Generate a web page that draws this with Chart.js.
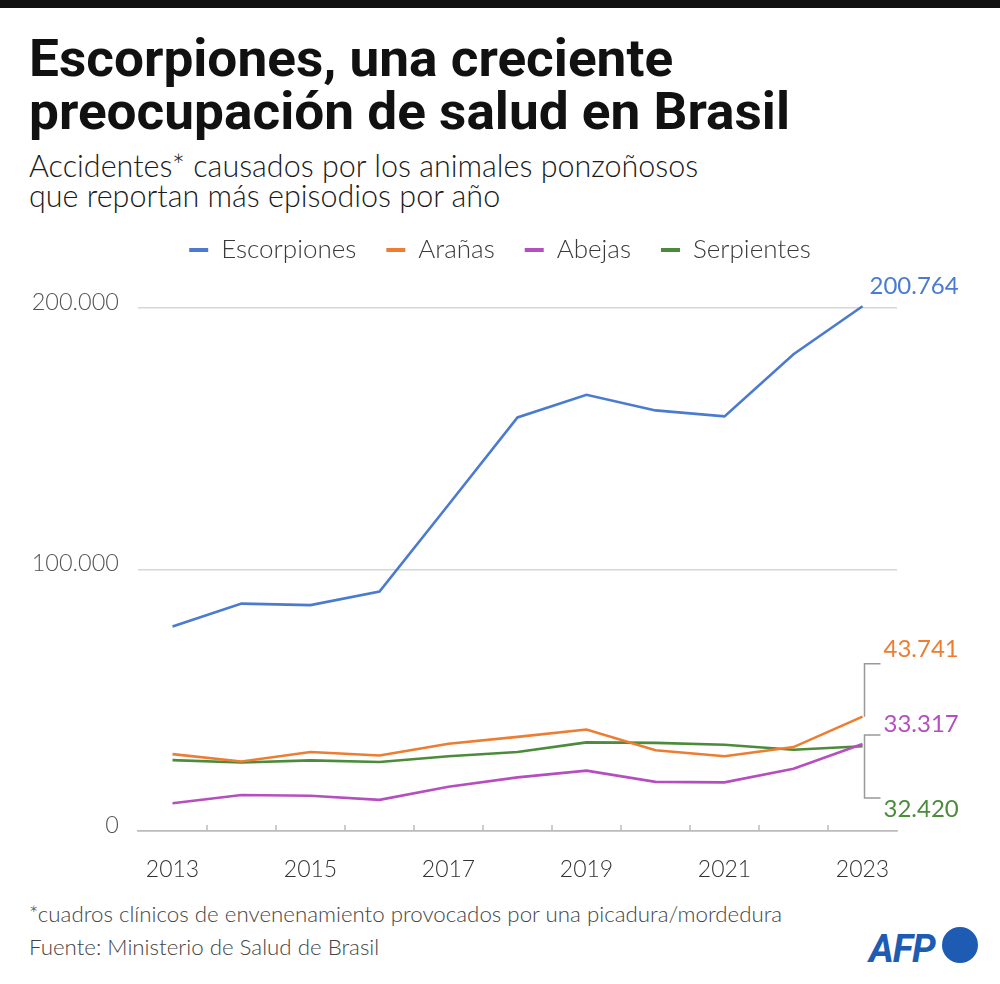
<!DOCTYPE html>
<html lang="es">
<head>
<meta charset="utf-8">
<script src="https://cdn.jsdelivr.net/npm/chart.js@4.4.1/dist/chart.umd.min.js"></script>
<style>
  html, body { margin: 0; padding: 0; background: #fff; }
  body { width: 1000px; height: 984px; position: relative; overflow: hidden; font-family: Lato, "Noto Sans", sans-serif; }
  .topbar { position: absolute; left: 0; top: 0; width: 1000px; height: 8px; background: #111; }
  .title { position: absolute; left: 29px; margin: 0; font: 700 52px/53px Roboto, sans-serif; color: #111; white-space: nowrap; transform-origin: left top; }
  .sub { position: absolute; left: 29px; font: 300 30.5px/29px Lato, sans-serif; color: #1a1a1a; white-space: nowrap; }
  .foot { position: absolute; left: 29px; font: 300 22.3px/33px Lato, sans-serif; color: #444; white-space: nowrap; }
  #wrap { position: absolute; left: 0; top: 200px; width: 1000px; height: 690px; }
  .afp { position: absolute; left: 869px; top: 930px; font: italic 700 38px/38px Roboto, sans-serif; color: #1e5cb3; letter-spacing: -1px; }
  .dot { position: absolute; left: 942px; top: 927px; width: 36px; height: 36px; border-radius: 50%; background: #1e5cb3; }
</style>
</head>
<body>
<div class="topbar"></div>
<div class="title" id="t1" style="top:32px">Escorpiones, una creciente</div>
<div class="title" id="t2" style="top:85px">preocupación de salud en Brasil</div>
<div class="sub" style="top:151px">Accidentes* causados por los animales ponzoñosos</div>
<div class="sub" style="top:181px">que reportan más episodios por año</div>
<div id="wrap"><canvas id="chart" width="1000" height="690"></canvas></div>
<div class="foot" style="top:897px">*cuadros clínicos de envenenamiento provocados por una picadura/mordedura</div>
<div class="foot" style="top:930px">Fuente: Ministerio de Salud de Brasil</div>
<div class="afp">AFP</div>
<div class="dot"></div>
<script>
const years = ['2013', '2014', '2015', '2016', '2017', '2018', '2019', '2020', '2021', '2022', '2023'];
const escorpiones = [78200, 87000, 86400, 91600, 124800, 158200, 166900, 160900, 158600, 182400, 200764];
const aranas = [29400, 26600, 30200, 28900, 33400, 36000, 38800, 30900, 28600, 32100, 43741];
const abejas = [10600, 13800, 13500, 11900, 16900, 20500, 23100, 18800, 18600, 23800, 33317];
const serpientes = [27100, 26200, 27000, 26400, 28600, 30200, 33900, 33700, 33000, 31100, 32420];
const seriesNames = ['Escorpiones', 'Arañas', 'Abejas', 'Serpientes'];
const colors = ['#4a7bd0', '#ed7d31', '#b54fbf', '#4b8b3b'];
const yTicks = [0, 100000, 200000];

// squeeze the bold title into the narrow width of the original
const t2 = document.getElementById('t2');
const sx = 761 / t2.getBoundingClientRect().width;
document.querySelectorAll('.title').forEach(el => el.style.transform = 'scaleX(' + sx + ')');

function fmt(v) {
  return String(Math.round(v)).replace(/\B(?=(\d{3})+(?!\d))/g, '.');
}

const axisTicks = {
  id: 'axisTicks',
  afterDraw(chart) {
    const {ctx, chartArea, scales: {x}} = chart;
    ctx.save();
    ctx.strokeStyle = '#bbb';
    ctx.lineWidth = 1.5;
    for (let i = 1; i < years.length; i++) {
      const px = (x.getPixelForValue(i - 1) + x.getPixelForValue(i)) / 2;
      ctx.beginPath();
      ctx.moveTo(px, chartArea.bottom - 6);
      ctx.lineTo(px, chartArea.bottom);
      ctx.stroke();
    }
    ctx.restore();
  }
};

const endLabels = {
  id: 'endLabels',
  afterDatasetsDraw(chart) {
    const ctx = chart.ctx;
    const last = years.length - 1;
    const pt = i => chart.getDatasetMeta(i).data[last];
    const vals = [escorpiones, aranas, abejas, serpientes].map(a => a[last]);
    ctx.save();
    ctx.font = '400 24px Lato, sans-serif';
    ctx.textAlign = 'left';
    ctx.textBaseline = 'middle';

    const pe = pt(0);
    ctx.fillStyle = colors[0];
    ctx.fillText(fmt(vals[0]), pe.x + 7, pe.y - 20);

    ctx.strokeStyle = '#999';
    ctx.lineWidth = 1.5;
    const bx = pe.x + 2;

    const po = pt(1);
    ctx.beginPath();
    ctx.moveTo(bx, po.y);
    ctx.lineTo(bx, po.y - 53);
    ctx.lineTo(bx + 16, po.y - 53);
    ctx.stroke();
    ctx.fillStyle = colors[1];
    ctx.fillText(fmt(vals[1]), bx + 19, po.y - 67);

    const mid = (pt(2).y + pt(3).y) / 2;
    ctx.beginPath();
    ctx.moveTo(bx + 16, mid - 10);
    ctx.lineTo(bx, mid - 10);
    ctx.lineTo(bx, mid + 53);
    ctx.lineTo(bx + 16, mid + 53);
    ctx.stroke();
    ctx.fillStyle = colors[2];
    ctx.fillText(fmt(vals[2]), bx + 19, mid - 21);
    ctx.fillStyle = colors[3];
    ctx.fillText(fmt(vals[3]), bx + 19, mid + 64);
    ctx.restore();
  }
};

const series = [escorpiones, aranas, abejas, serpientes];

new Chart(document.getElementById('chart'), {
  type: 'line',
  data: {
    labels: years,
    datasets: series.map((d, i) => ({
      label: seriesNames[i],
      data: d,
      borderColor: colors[i],
      backgroundColor: colors[i],
      borderWidth: 2.6,
      pointRadius: 0,
      tension: 0,
      clip: false,
      yAxisID: 'y'
    }))
  },
  options: {
    responsive: false,
    animation: false,
    layout: { padding: { top: 7, left: 0, right: 0, bottom: 0 } },
    plugins: {
      legend: {
        position: 'top',
        labels: {
          boxWidth: 19,
          boxHeight: 4,
          padding: 30,
          color: '#3a3a3a',
          font: { family: 'Lato, sans-serif', size: 26, weight: '300' },
          generateLabels(chart) {
            return chart.data.datasets.map((ds, i) => ({
              text: ds.label,
              fillStyle: ds.borderColor,
              strokeStyle: ds.borderColor,
              lineWidth: 0,
              fontColor: '#3a3a3a',
              datasetIndex: i
            }));
          }
        }
      },
      // empty subtitle used as spacing between the legend and the plot
      subtitle: {
        display: true,
        text: ' ',
        position: 'top',
        weight: 500,
        font: { size: 1 },
        padding: { top: 0, bottom: 34 }
      },
      tooltip: { enabled: false }
    },
    scales: {
      x: {
        type: 'category',
        offset: true,
        grid: { display: false },
        border: { display: true, color: '#bbb', width: 1.5 },
        ticks: {
          autoSkip: false,
          maxRotation: 0,
          padding: 17,
          color: '#333',
          font: { family: 'Lato, sans-serif', size: 23, weight: '300' },
          callback: (v, i) => (i % 2 === 0 ? years[i] : '')
        },
        afterFit(s) { s.height = 59; }
      },
      y: {
        min: 0,
        max: 200000,
        afterBuildTicks(s) { s.ticks = yTicks.map(v => ({ value: v })); },
        grid: {
          drawTicks: false,
          color: ctx => (ctx.tick && ctx.tick.value === 0 ? '#bbb' : '#d6d6d6'),
          lineWidth: 1.5
        },
        border: { display: false },
        ticks: {
          padding: 19,
          labelOffset: -6,
          color: '#555',
          font: { family: 'Lato, sans-serif', size: 23.5, weight: '300' },
          callback: v => fmt(v)
        },
        afterFit(s) { s.width = 138; }
      },
      yR: {
        type: 'linear',
        position: 'right',
        grid: { display: false },
        border: { display: false },
        ticks: { display: false },
        afterFit(s) { s.width = 103; }
      }
    }
  },
  plugins: [axisTicks, endLabels]
});
</script>
</body>
</html>
